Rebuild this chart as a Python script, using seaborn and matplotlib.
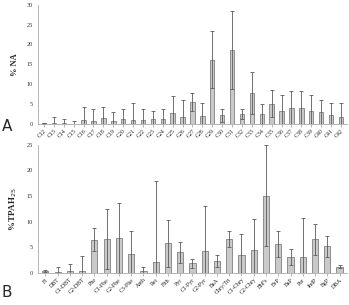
import numpy as np
import matplotlib
matplotlib.use("Agg")
import matplotlib.pyplot as plt
import seaborn as sns

# panel A: n-alkanes
na_labels = ["C12", "C13", "C14", "C15", "C16", "C17", "C18", "C19", "C20", "C21", "C22",
             "C23", "C24", "C25", "C26", "C27", "C28", "C29", "C30", "C31", "C32", "C33",
             "C34", "C35", "C36", "C37", "C38", "C39", "C40", "C41", "C42"]
na_mean = [0.2, 0.2, 0.2, 0.1, 1.0, 0.7, 1.5, 0.7, 1.2, 1.1, 1.1,
           1.3, 1.2, 2.8, 1.7, 5.6, 2.1, 16.2, 2.2, 18.7, 2.6, 7.8,
           2.5, 5.1, 3.4, 4.0, 4.0, 3.3, 3.0, 2.3, 1.9]
na_sd = [0.1, 1.6, 1.0, 0.8, 3.3, 3.1, 2.9, 2.3, 2.7, 4.1, 2.8,
         1.9, 2.6, 4.3, 4.3, 2.3, 3.1, 7.1, 1.7, 9.8, 1.2, 5.2,
         2.5, 3.4, 3.8, 4.2, 4.2, 3.9, 3.1, 2.9, 3.3]

# panel B: PAHs
pah_labels = ["Fl", "DBT", "C1-DBT", "C2-DBT", "Phe", "C1-Phe", "C2-Phe", "C3-Phe", "Anth",
              "Ret", "Flth", "Pyr", "C1-Pyr", "C2-Pyr", "BaA", "Chry/Tri", "C1-Chry",
              "C2-Chry", "BbFs", "BeP", "BaP", "Per", "IndP", "BgP", "DBA"]
pah_mean = [0.3, 0.2, 0.3, 0.4, 6.5, 6.6, 6.8, 3.8, 0.4,
            2.1, 5.8, 4.0, 1.9, 4.35, 2.4, 6.6, 3.6,
            4.5, 15.1, 5.65, 3.1, 3.05, 6.6, 5.2, 1.2]
pah_sd = [0.2, 0.9, 1.4, 3.0, 2.3, 5.9, 6.8, 4.3, 0.7,
          15.8, 4.6, 2.0, 0.9, 8.65, 1.2, 1.6, 4.0,
          6.1, 9.9, 2.55, 1.6, 7.75, 3.0, 2.1, 0.3]

sns.set_style("white")
plt.rcParams["font.family"] = ["Liberation Serif", "DejaVu Serif"]

fig = plt.figure(figsize=(3.49, 3.05), dpi=100)
axA = fig.add_axes([0.109, 0.593, 0.885, 0.392])
axB = fig.add_axes([0.109, 0.105, 0.885, 0.42])

def panel(ax, labels, mean, sd, ymax, width):
    sns.barplot(x=labels, y=mean, ax=ax, color="#c9c9c9", edgecolor="#808080",
                linewidth=0.6, width=width, saturation=1)
    ax.errorbar(np.arange(len(labels)), mean, yerr=sd, fmt="none", ecolor="#5a5a5a",
                elinewidth=0.6, capsize=1.2, capthick=0.6)
    ax.set_ylim(0, ymax)
    ax.set_xlim(-0.6, len(labels) - 0.4)
    ax.set_yticks(np.arange(0, ymax + 1, 5))
    ax.tick_params(axis="y", labelsize=4.5, length=2, width=0.5, color="#999999",
                   pad=1.5, labelcolor="#333333")
    ax.tick_params(axis="x", labelsize=4.2, length=2, width=0.5, color="#999999",
                   pad=1, bottom=True, labelcolor="#222222")
    ax.set_xticks(np.arange(len(labels)))
    ax.set_xticklabels(labels, rotation=45, ha="right", rotation_mode="anchor")
    for s in ["top", "right"]:
        ax.spines[s].set_visible(False)
    for s in ["left", "bottom"]:
        ax.spines[s].set_color("#aaaaaa")
        ax.spines[s].set_linewidth(0.6)

panel(axA, na_labels, na_mean, na_sd, 30, 0.45)
panel(axB, pah_labels, pah_mean, pah_sd, 25, 0.5)

axA.set_ylabel("% NA", fontsize=6, fontweight="bold", labelpad=6)
axB.set_ylabel("%TPAH$_{25}$", fontsize=6.5, fontweight="bold", labelpad=6)

fig.text(0.005, 0.585, "A", fontsize=11, family="DejaVu Sans", va="center")
fig.text(0.005, 0.04, "B", fontsize=11, family="DejaVu Sans", va="center")

fig.savefig("out.png", dpi=100)
